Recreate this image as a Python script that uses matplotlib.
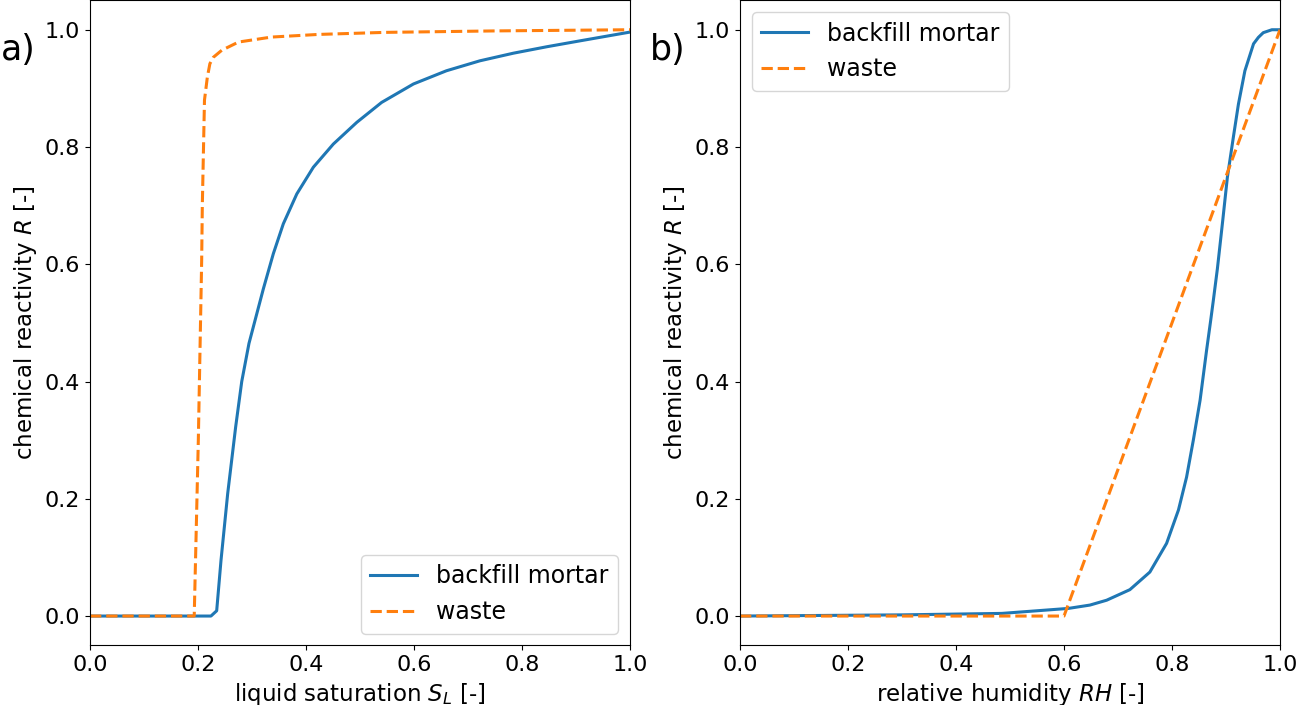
import matplotlib
matplotlib.use("Agg")
import matplotlib.pyplot as plt

# ---- data: panel a) liquid saturation ----
sl_mortar_x = [0.0, 0.224, 0.2346, 0.2426, 0.255, 0.2698, 0.281, 0.2944, 0.321, 0.3395,
               0.358, 0.383, 0.4136, 0.4506, 0.494, 0.540, 0.599, 0.660, 0.722, 0.784,
               0.846, 0.907, 1.0]
sl_mortar_y = [0.0, 0.0, 0.009, 0.095, 0.209, 0.323, 0.400, 0.465, 0.558, 0.618,
               0.669, 0.720, 0.7655, 0.805, 0.842, 0.876, 0.9075, 0.930, 0.947, 0.960,
               0.971, 0.981, 0.996]
sl_waste_x = [0.0, 0.193, 0.2006, 0.2068, 0.208, 0.212, 0.2173, 0.222, 0.2284, 0.244,
              0.275, 0.336, 0.423, 0.546, 0.75, 1.0]
sl_waste_y = [0.0, 0.0, 0.300, 0.607, 0.700, 0.880, 0.919, 0.942, 0.953, 0.965,
              0.979, 0.9875, 0.992, 0.9955, 0.998, 1.0]

# ---- data: panel b) relative humidity ----
rh_mortar_x = [0.0, 0.299, 0.485, 0.608, 0.648, 0.679, 0.722, 0.759, 0.790,
               0.812, 0.827, 0.8395, 0.852, 0.864, 0.8716, 0.8765, 0.884, 0.894, 0.9025,
               0.9136, 0.923, 0.935, 0.951, 0.960, 0.969, 0.985, 1.0]
rh_mortar_y = [0.0, 0.002, 0.0045, 0.013, 0.0187, 0.027, 0.045, 0.075, 0.124,
               0.181, 0.237, 0.300, 0.368, 0.453, 0.504, 0.538, 0.592, 0.675, 0.748,
               0.8166, 0.873, 0.930, 0.976, 0.987, 0.995, 1.0, 1.0]
rh_waste_x = [0.0, 0.6, 1.0]
rh_waste_y = [0.0, 0.0, 1.0]

ticks = [0.0, 0.2, 0.4, 0.6, 0.8, 1.0]
tick_labels = ["0.0", "0.2", "0.4", "0.6", "0.8", "1.0"]
legend_labels = ["backfill mortar", "waste"]

blue = "#1f77b4"
orange = "#ff7f0e"
fs_tick = 16
fs_label = 16.5
fs_leg = 17

fig = plt.figure(figsize=(13, 7.05), dpi=100)
axa = fig.add_axes([90/1300, 0.0846, 540/1300, 0.9148])
axb = fig.add_axes([740/1300, 0.0846, 540/1300, 0.9148])

for ax, (mx, my, wx, wy), xl, loc in [
    (axa, (sl_mortar_x, sl_mortar_y, sl_waste_x, sl_waste_y),
     "liquid saturation $S_L$ [-]", "lower right"),
    (axb, (rh_mortar_x, rh_mortar_y, rh_waste_x, rh_waste_y),
     "relative humidity $RH$ [-]", "upper left"),
]:
    ax.plot(mx, my, color=blue, lw=2.2, label=legend_labels[0])
    ax.plot(wx, wy, color=orange, lw=2.2, ls="--", label=legend_labels[1])
    ax.set_xlim(0, 1)
    ax.set_ylim(-0.05, 1.05)
    ax.set_xticks(ticks)
    ax.set_xticklabels(tick_labels)
    ax.set_yticks(ticks)
    ax.set_yticklabels(tick_labels)
    ax.tick_params(labelsize=fs_tick)
    ax.set_xlabel(xl, fontsize=fs_label)
    ax.set_ylabel("chemical reactivity $R$ [-]", fontsize=fs_label)
    ax.legend(loc=loc, fontsize=fs_leg)

fig.text(1/1300, (705-60)/705, "a)", fontsize=25, ha="left", va="baseline")
fig.text(650/1300, (705-60)/705, "b)", fontsize=25, ha="left", va="baseline")

fig.savefig("out.png", dpi=100)
